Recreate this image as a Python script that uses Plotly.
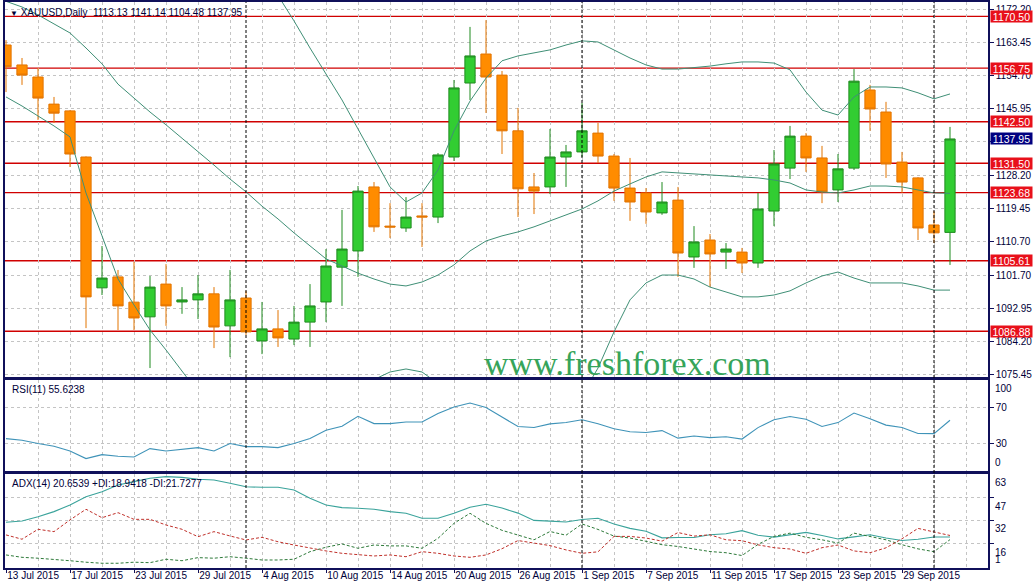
import plotly.graph_objects as go
from datetime import date

# ---------------- data ----------------
DATES = [
    "2015-07-13", "2015-07-14", "2015-07-15", "2015-07-16", "2015-07-17",
    "2015-07-20", "2015-07-21", "2015-07-22", "2015-07-23", "2015-07-24",
    "2015-07-27", "2015-07-28", "2015-07-29", "2015-07-30", "2015-07-31",
    "2015-08-03", "2015-08-04", "2015-08-05", "2015-08-06", "2015-08-07",
    "2015-08-10", "2015-08-11", "2015-08-12", "2015-08-13", "2015-08-14",
    "2015-08-17", "2015-08-18", "2015-08-19", "2015-08-20", "2015-08-21",
    "2015-08-24", "2015-08-25", "2015-08-26", "2015-08-27", "2015-08-28",
    "2015-08-31", "2015-09-01", "2015-09-02", "2015-09-03", "2015-09-04",
    "2015-09-07", "2015-09-08", "2015-09-09", "2015-09-10", "2015-09-11",
    "2015-09-14", "2015-09-15", "2015-09-16", "2015-09-17", "2015-09-18",
    "2015-09-21", "2015-09-22", "2015-09-23", "2015-09-24", "2015-09-25",
    "2015-09-28", "2015-09-29", "2015-09-30", "2015-10-01", "2015-10-02",
]

OPEN = [1162.9, 1157.6, 1154.4, 1147.2, 1145.4, 1133.15, 1098.4, 1101.3, 1094.6, 1090.7,
        1099.4, 1094.65, 1095.2, 1096.8, 1088.3, 1095.7, 1084.3, 1087.5, 1084.8, 1089.3,
        1094.65, 1103.9, 1108.2, 1125.2, 1114.8, 1114.3, 1117.5, 1117.2, 1133.15, 1152.8,
        1160.5, 1154.9, 1140.1, 1125.2, 1125.2, 1133.15, 1134.5, 1139.5, 1133.4, 1124.9,
        1123.6, 1118.3, 1121.7, 1106.6, 1111.1, 1107.9, 1107.9, 1105.0, 1118.8, 1130.2,
        1138.7, 1132.9, 1124.4, 1130.2, 1150.95, 1145.1, 1131.8, 1127.6, 1115.1, 1113.13]
HIGH = [1164.2, 1159.45, 1156.8, 1149.1, 1145.6, 1133.3, 1109.5, 1103.15, 1105.3, 1101.55,
        1104.7, 1098.6, 1101.8, 1098.6, 1103.15, 1097.6, 1094.65, 1092.5, 1093.6, 1099.4,
        1108.7, 1119.1, 1125.45, 1126.5, 1120.9, 1122.5, 1120.9, 1134.2, 1153.6, 1167.7,
        1169.5, 1156.0, 1146.2, 1128.9, 1140.6, 1136.35, 1147.5, 1142.2, 1133.95, 1132.9,
        1124.9, 1126.5, 1125.2, 1114.8, 1112.7, 1110.3, 1109.0, 1123.6, 1135.0, 1141.4,
        1139.5, 1136.1, 1133.95, 1156.5, 1152.3, 1147.8, 1134.5, 1127.8, 1118.8, 1141.14]
LOW = [1150.4, 1152.3, 1143.0, 1142.2, 1130.5, 1087.7, 1096.5, 1087.2, 1087.2, 1077.1,
       1088.3, 1091.5, 1090.1, 1082.4, 1080.0, 1085.9, 1080.8, 1082.7, 1083.2, 1082.7,
       1089.3, 1093.6, 1101.3, 1113.25, 1111.65, 1113.25, 1109.25, 1115.6, 1132.1, 1148.3,
       1144.85, 1133.95, 1117.2, 1118.0, 1123.3, 1125.2, 1133.15, 1131.55, 1121.5, 1116.2,
       1115.4, 1117.8, 1101.3, 1103.7, 1098.6, 1103.4, 1102.35, 1103.7, 1114.8, 1127.3,
       1129.2, 1120.9, 1121.2, 1129.7, 1140.1, 1127.6, 1123.6, 1111.1, 1110.3, 1104.48]
CLOSE = [1157.1, 1154.9, 1148.8, 1144.8, 1133.95, 1096.0, 1101.0, 1093.6, 1090.4, 1098.6,
         1093.6, 1095.2, 1096.8, 1088.0, 1095.2, 1086.7, 1087.5, 1085.1, 1089.3, 1093.6,
         1104.2, 1108.7, 1124.1, 1114.6, 1114.55, 1117.2, 1117.2, 1133.7, 1151.5, 1160.0,
         1154.4, 1140.1, 1124.7, 1124.1, 1133.15, 1134.5, 1140.1, 1133.4, 1124.9, 1121.2,
         1118.55, 1121.2, 1107.65, 1110.6, 1107.4, 1108.7, 1105.0, 1119.35, 1131.3, 1138.7,
         1132.9, 1123.9, 1130.0, 1153.3, 1145.9, 1131.3, 1126.5, 1114.3, 1113.0, 1137.95]

BB_UPPER = [1199, 1198, 1197, 1196, 1195, 1196, 1197, 1197, 1196, 1195,
            1194, 1193, 1192, 1190, 1188, 1186, 1182.8, 1176.2, 1169.3, 1162.1,
            1155.2, 1148.3, 1140.6, 1132.9, 1125.2, 1121.2, 1123.6, 1129.7, 1140.1, 1148.0,
            1154.1, 1158.7, 1160.0, 1160.8, 1161.6, 1162.9, 1164.0, 1163.7, 1161.6, 1159.45,
            1157.6, 1156.5, 1156.5, 1156.8, 1157.3, 1157.9, 1158.4, 1158.4, 1158.1, 1156.3,
            1150.4, 1145.6, 1144.3, 1149.1, 1151.75, 1151.75, 1151.5, 1150.2, 1148.6, 1149.9]
BB_MIDDLE = [1174.5, 1173.0, 1170.9, 1168.5, 1166.1, 1162.1, 1157.9, 1152.5, 1148.8, 1145.1,
             1141.7, 1138.2, 1134.5, 1131.0, 1127.3, 1123.9, 1120.1, 1116.7, 1113.0, 1109.5,
             1106.1, 1104.2, 1102.3, 1100.75, 1099.4, 1098.9, 1099.95, 1101.8, 1104.5, 1108.2,
             1110.85, 1112.2, 1113.25, 1114.6, 1116.15, 1117.75, 1119.35, 1121.5, 1124.1, 1126.0,
             1127.85, 1129.2, 1128.9, 1128.6, 1128.4, 1128.1, 1127.85, 1127.6, 1127.05, 1126.25,
             1124.4, 1123.85, 1123.6, 1124.4, 1125.45, 1125.45, 1125.2, 1124.4, 1123.6, 1123.5]
BB_LOWER = [1149.1, 1146.7, 1144.05, 1141.4, 1138.5, 1123.6, 1112.2, 1100.75, 1093.85, 1087.2,
            1081.9, 1076.3, 1070.7, 1067.0, 1064.0, 1062.0, 1061.0, 1062.0, 1064.0, 1066.0,
            1068.0, 1070.0, 1072.0, 1073.9, 1076.05, 1076.85, 1076.05, 1073.0, 1069.0, 1066.0,
            1064.0, 1063.0, 1063.0, 1064.0, 1065.0, 1067.0, 1069.9, 1077.1, 1086.7, 1095.2,
            1099.7, 1101.8, 1101.8, 1100.75, 1098.6, 1097.3, 1096.0, 1096.0, 1096.5, 1097.6,
            1099.7, 1101.55, 1102.6, 1101.0, 1099.7, 1099.7, 1099.7, 1098.9, 1097.8, 1097.8]

RSI = [35.2, 33.3, 29.7, 26.7, 21.4, 13.0, 17.4, 15.6, 14.8, 24.1,
       21.4, 23.0, 25.2, 21.4, 29.7, 26.3, 26.3, 25.2, 29.7, 35.2,
       44.4, 48.9, 60.0, 51.9, 51.9, 53.7, 53.7, 63.0, 70.3, 74.8,
       69.7, 59.3, 48.6, 47.6, 51.6, 53.1, 56.2, 51.7, 46.1, 42.9,
       42.0, 44.1, 35.7, 38.1, 36.3, 37.3, 34.7, 47.4, 56.2, 59.8,
       56.7, 48.7, 53.0, 63.6, 57.4, 50.2, 47.6, 40.9, 40.7, 55.6238]

ADX = [30.6, 31.5, 34.4, 37.8, 42.3, 47.9, 51.2, 55.8, 58.0, 60.3,
       61.4, 60.9, 59.6, 59.1, 56.9, 54.6, 54.2, 54.2, 52.4, 46.8,
       42.3, 40.5, 40.1, 39.4, 37.8, 36.7, 33.3, 33.3, 36.7, 40.7,
       42.8, 40.2, 36.8, 31.9, 31.4, 30.8, 32.5, 33.3, 29.5, 26.5,
       24.6, 20.1, 20.4, 20.4, 22.2, 22.9, 25.0, 21.9, 20.6, 22.2,
       23.8, 21.7, 19.4, 20.8, 22.2, 20.0, 18.3, 19.2, 20.7, 20.6539]
PLUS_DI = [8.6, 7.0, 6.4, 5.7, 4.7, 3.7, 3.0, 3.0, 3.7, 3.4,
           5.7, 4.7, 6.8, 6.4, 7.4, 6.4, 5.2, 5.2, 5.7, 10.8,
           13.8, 16.0, 13.1, 15.3, 14.7, 14.7, 13.1, 19.8, 29.9, 36.7,
           29.9, 25.2, 22.1, 18.8, 24.4, 21.9, 29.5, 25.8, 21.3, 20.0,
           17.8, 15.5, 14.3, 12.7, 10.9, 10.1, 8.2, 15.7, 21.1, 23.3,
           20.5, 18.8, 16.6, 23.3, 21.2, 18.8, 15.5, 12.7, 10.8, 18.9418]
MINUS_DI = [22.1, 19.2, 25.9, 24.3, 32.2, 39.4, 33.7, 37.1, 32.6, 32.6,
            28.8, 25.9, 20.9, 24.3, 21.4, 18.7, 20.5, 17.5, 15.3, 13.1,
            11.3, 9.7, 8.6, 7.9, 8.6, 7.4, 10.8, 9.7, 7.9, 7.0,
            8.6, 12.8, 18.3, 16.5, 14.9, 12.0, 9.7, 10.7, 21.1, 21.1,
            20.0, 17.9, 23.7, 21.3, 22.2, 18.8, 18.2, 15.4, 13.5, 12.6,
            9.7, 13.5, 15.3, 11.3, 10.1, 13.4, 19.5, 26.5, 24.0, 21.7277]

PRICE_LEVELS = [1170.50, 1156.75, 1142.50, 1131.50, 1123.68, 1105.61, 1086.88]
PRICE_TICKS = [1172.20, 1163.45, 1154.70, 1145.95, 1137.20, 1128.20, 1119.45,
               1110.70, 1101.70, 1092.95, 1084.20, 1075.45]
PRICE_TICK_TEXT = ["1172.20", "1163.45", "1154.70", "1145.95", "", "1128.20", "1119.45",
                   "1110.70", "1101.70", "1092.95", "1084.20", "1075.45"]
RSI_LEVELS = [70, 30]
ADX_LEVELS = [47, 32, 16]

# ---------------- styling ----------------
FONT = "Liberation Sans, Arial, sans-serif"
TXT = "#000038"
FRAME = "#10105a"
GRID = "#c4c4c4"
BB_COLOR = "#3f8f76"
SEP = "#000000"

n = len(DATES)
x = list(range(n))
parsed = [date.fromisoformat(d) for d in DATES]
tick_pos = list(range(0, n - 2, 4))
tick_text = [f"{parsed[i].day} {parsed[i]:%b %Y}" for i in tick_pos]
separators = [i for i in range(1, n) if parsed[i].month != parsed[i - 1].month]

fig = go.Figure()
fig.add_trace(go.Candlestick(
    x=x, open=OPEN, high=HIGH, low=LOW, close=CLOSE, xaxis="x", yaxis="y",
    increasing=dict(fillcolor="#32cd32", line=dict(color="#1f8a1f", width=1)),
    decreasing=dict(fillcolor="#ff8c00", line=dict(color="#e27400", width=1)),
    whiskerwidth=0, showlegend=False, hoverinfo="none"))
for band in (BB_UPPER, BB_MIDDLE, BB_LOWER):
    fig.add_trace(go.Scatter(x=x, y=band, mode="lines", xaxis="x", yaxis="y",
                             line=dict(color=BB_COLOR, width=1), showlegend=False,
                             hoverinfo="skip"))
fig.add_trace(go.Scatter(x=x, y=RSI, mode="lines", xaxis="x2", yaxis="y2",
                         line=dict(color="#3f93b8", width=1.1), showlegend=False, hoverinfo="skip"))
fig.add_trace(go.Scatter(x=x, y=ADX, mode="lines", xaxis="x3", yaxis="y3",
                         line=dict(color="#3aa39b", width=1.1), showlegend=False, hoverinfo="skip"))
fig.add_trace(go.Scatter(x=x, y=PLUS_DI, mode="lines", xaxis="x3", yaxis="y3",
                         line=dict(color="#2e7a3a", width=1, dash="3px,2px"), showlegend=False, hoverinfo="skip"))
fig.add_trace(go.Scatter(x=x, y=MINUS_DI, mode="lines", xaxis="x3", yaxis="y3",
                         line=dict(color="#c0302a", width=1, dash="3px,2px"), showlegend=False, hoverinfo="skip"))

W, H = 1033, 581
ML, MR, MT, MB = 5, 45, 2, 13
PH = H - MT - MB


def dom(top_px, bot_px):
    return [(H - MB - bot_px) / PH, (H - MB - top_px) / PH]


xr = [-0.0625, -0.0625 + (W - ML - MR) / 16.0]
common_x = dict(range=xr, showgrid=True, gridcolor=GRID, griddash="3px,3px", gridwidth=1,
                tickmode="array", tickvals=tick_pos, zeroline=False, automargin=False,
                showline=True, mirror=True, linecolor=FRAME, linewidth=1.5,
                minor=dict(tickmode="linear", tick0=0, dtick=2, showgrid=True,
                           gridcolor=GRID, griddash="3px,3px", gridwidth=1))
common_y = dict(side="right", showgrid=True, gridcolor=GRID, griddash="3px,3px", gridwidth=1,
                zeroline=False, showline=True, mirror=True, linecolor=FRAME, linewidth=1.5,
                tickfont=dict(family=FONT, size=10, color=TXT), ticks="outside",
                ticklen=4, tickcolor=FRAME, tickmode="array", automargin=False)

fig.update_layout(
    width=W, height=H, margin=dict(l=ML, r=MR, t=MT, b=MB, pad=0, autoexpand=False),
    paper_bgcolor="white", plot_bgcolor="white", showlegend=False,
    boxgap=0.2, boxgroupgap=0.2, hovermode=False,
    xaxis=dict(**common_x, anchor="y", showticklabels=False, ticks="",
               rangeslider=dict(visible=False)),
    xaxis2=dict(**common_x, anchor="y2", matches="x", showticklabels=False, ticks=""),
    xaxis3=dict(**common_x, anchor="y3", matches="x", ticktext=tick_text, ticks="outside",
                ticklen=3, tickcolor=FRAME, ticklabelposition="outside right", tickangle=0,
                ticklabelstandoff=-3,
                tickfont=dict(family=FONT, size=10, color=TXT)),
    yaxis=dict(**common_y, domain=dom(2, 377), range=[1074.72, 1174.32],
               tickvals=PRICE_TICKS, ticktext=PRICE_TICK_TEXT),
    yaxis2=dict(**common_y, domain=dom(379.5, 471), range=[-0.8, 100.9],
                tickvals=RSI_LEVELS, ticktext=[str(v) for v in RSI_LEVELS]),
    yaxis3=dict(**common_y, domain=dom(473.5, 568), range=[-0.2, 63.5],
                tickvals=ADX_LEVELS, showticklabels=False),
)

shapes = []
for lv in PRICE_LEVELS:
    shapes.append(dict(type="line", xref="x domain", x0=0, x1=1, yref="y", y0=lv, y1=lv,
                       line=dict(color="#d00000", width=1.4), layer="below"))
for s in separators:
    shapes.append(dict(type="line", xref="x", x0=s, x1=s, yref="paper", y0=0, y1=1,
                       line=dict(color=SEP, width=1, dash="3px,2px"), layer="above"))
fig.update_layout(shapes=shapes)

ann = []
small = dict(family=FONT, size=10, color=TXT)
ann.append(dict(xref="paper", x=0, xanchor="left", xshift=3, yref="paper", y=1, yanchor="top",
                yshift=-3, showarrow=False, font=small,
                text=(f"<span style='font-size:8px'>▼</span> XAUUSD,Daily  "
                      f"{OPEN[-1]:.2f} {HIGH[-1]:.2f} {LOW[-1]:.2f} {CLOSE[-1]:.2f}")))
ann.append(dict(xref="paper", x=0, xanchor="left", xshift=5, yref="y2 domain", y=1,
                yanchor="top", yshift=-2, showarrow=False, font=small,
                text=f"RSI(11) {RSI[-1]:.4f}"))
ann.append(dict(xref="paper", x=0, xanchor="left", xshift=5, yref="y3 domain", y=1,
                yanchor="top", yshift=-2, showarrow=False, font=small,
                text=f"ADX(14) {ADX[-1]:.4f} +DI:{PLUS_DI[-1]:.4f} -DI:{MINUS_DI[-1]:.4f}"))
for lv in PRICE_LEVELS:
    ann.append(dict(xref="paper", x=1, xanchor="left", xshift=2, yref="y", y=lv,
                    yanchor="middle", showarrow=False, text=f"{lv:.2f}", bgcolor="#e8101a",
                    font=dict(family=FONT, size=10.5, color="white"), width=41, height=11,
                    borderpad=0))
ann.append(dict(xref="paper", x=1, xanchor="left", xshift=2, yref="y", y=CLOSE[-1],
                yanchor="middle", showarrow=False, text=f"{CLOSE[-1]:.2f}", bgcolor="#000080",
                font=dict(family=FONT, size=10.5, color="white"), width=41, height=11,
                borderpad=0))
# RSI extreme labels
ann.append(dict(xref="paper", x=1, xanchor="left", xshift=5, yref="y2", y=100, yanchor="top",
                yshift=-1, showarrow=False, text="100", font=small))
ann.append(dict(xref="paper", x=1, xanchor="left", xshift=5, yref="y2", y=0, yanchor="bottom",
                yshift=0, showarrow=False, text="0", font=small))
# ADX scale labels
for v in [63] + ADX_LEVELS:
    ann.append(dict(xref="paper", x=1, xanchor="left", xshift=5, yref="y3", y=v, yanchor="top",
                    yshift=-1, showarrow=False, text=str(v), font=small))
ann.append(dict(xref="paper", x=1, xanchor="left", xshift=5, yref="y3", y=1, yanchor="bottom",
                yshift=-1, showarrow=False, text="1", font=small))
# watermark
ann.append(dict(xref="paper", x=(627 - ML) / (W - ML - MR), xanchor="center",
                yref="paper", y=(H - MB - 384) / PH, yanchor="bottom", showarrow=False,
                text="www.freshforex.com",
                font=dict(family="Liberation Serif, Times New Roman, serif", size=34,
                          color="#36a45a")))
fig.update_layout(annotations=ann)

fig.write_html("out.html", config={"displayModeBar": False},
               post_script="document.body.style.margin='0';document.body.style.overflow='hidden';")
